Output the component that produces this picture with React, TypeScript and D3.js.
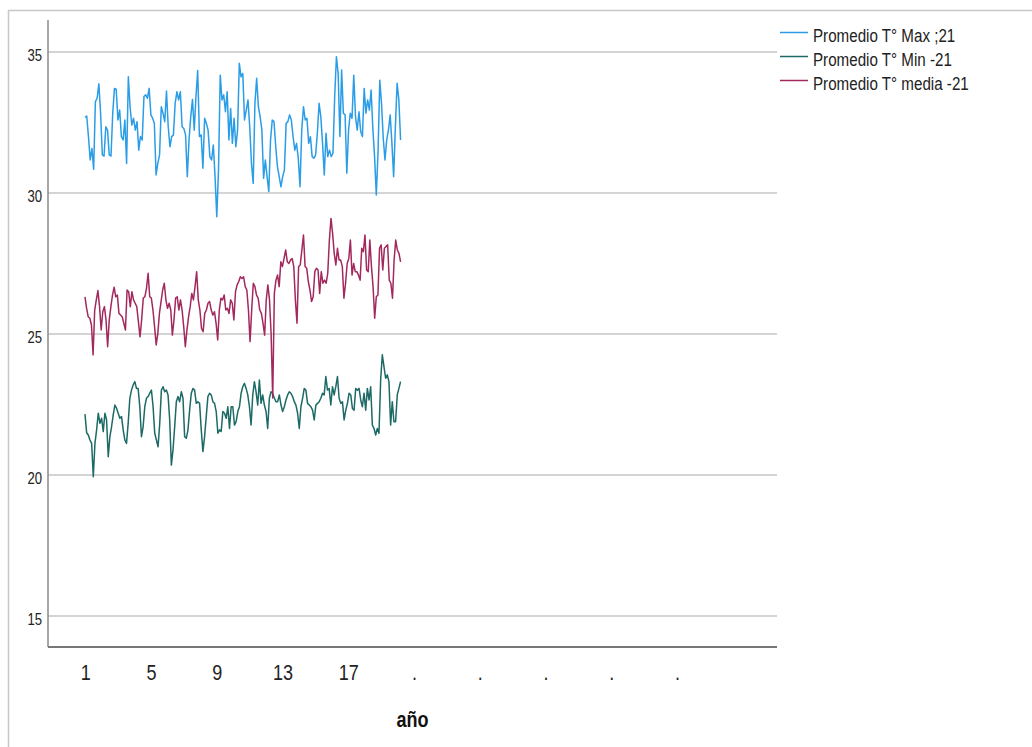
import React, { useEffect, useRef } from "react";
import * as d3 from "d3";

// series (about 12 readings per año)
const maxTemp = [
  32.68, 32.73, 32.0, 31.17, 31.58, 30.84, 33.24, 33.36, 33.87, 32.83, 31.35, 31.31, 32.35, 32.23, 31.35, 31.31,
  32.83, 33.71, 33.68, 32.59, 32.94, 32.0, 31.88, 32.59, 31.05, 34.12, 33.06, 32.41, 32.65, 32.23, 32.53, 31.52,
  32.0, 31.88, 33.42, 33.48, 33.36, 33.71, 32.77, 32.65, 32.47, 30.64, 31.05, 31.35, 33.06, 32.83, 32.53, 33.62,
  32.35, 31.64, 32.0, 32.06, 33.18, 33.59, 33.3, 33.59, 32.35, 32.29, 32.06, 30.58, 31.88, 32.71, 33.32, 32.23,
  33.42, 34.34, 32.0, 32.06, 30.88, 32.65, 32.47, 32.23, 31.29, 31.17, 31.7, 30.58, 29.16, 30.82, 34.18, 33.3,
  33.48, 32.88, 33.59, 31.88, 33.0, 31.76, 32.65, 31.64, 32.23, 34.6, 34.12, 34.24, 32.59, 32.94, 33.3, 32.35,
  31.05, 30.34, 33.18, 34.07, 33.06, 32.71, 32.23, 30.52, 31.17, 30.58, 30.05, 31.88, 32.59, 32.53, 31.64, 30.93,
  30.58, 30.22, 30.58, 30.82, 32.47, 32.53, 32.77, 32.59, 32.0, 31.52, 31.76, 31.23, 30.22, 32.23, 33.06, 32.59,
  32.65, 31.76, 32.0, 31.29, 31.23, 31.35, 32.12, 33.18, 32.71, 31.76, 30.64, 32.12, 31.29, 31.52, 31.29, 31.41,
  33.42, 34.83, 34.24, 32.0, 34.36, 32.83, 32.77, 30.7, 32.23, 32.83, 32.65, 34.18, 32.71, 32.23, 32.88, 32.18,
  32.0, 33.71, 32.83, 33.3, 32.94, 33.65, 32.29, 31.29, 29.93, 31.46, 34.0, 33.18, 31.94, 31.17, 31.88, 32.23,
  32.77, 31.76, 30.58, 32.35, 33.89, 33.3, 31.88
];

const minTemp = [
  22.16, 21.5, 21.42, 21.24, 21.12, 19.94, 21.12, 21.6, 22.19, 21.83, 22.01, 21.54, 22.19, 21.95, 20.65, 21.36,
  21.71, 22.13, 22.48, 22.37, 22.19, 22.01, 22.07, 21.6, 21.24, 21.12, 21.83, 22.72, 23.01, 23.19, 23.31, 23.07,
  23.07, 22.42, 21.36, 21.71, 22.42, 22.72, 22.78, 22.9, 23.01, 22.42, 21.48, 21.24, 21.0, 21.83, 23.01, 23.13,
  22.95, 23.01, 22.84, 21.95, 20.35, 20.89, 21.71, 22.6, 22.78, 22.6, 22.95, 22.72, 21.36, 21.3, 21.6, 22.3,
  22.9, 23.07, 23.01, 22.54, 22.6, 22.54, 21.6, 20.83, 21.36, 22.07, 22.78, 22.9, 22.84, 22.6, 22.54, 22.25,
  21.48, 21.6, 21.54, 22.25, 22.19, 22.01, 22.42, 21.65, 22.42, 22.42, 21.77, 21.89, 22.25, 22.42, 22.9, 23.13,
  23.25, 23.07, 22.84, 22.42, 21.77, 22.84, 23.31, 22.95, 22.48, 23.37, 22.54, 22.84, 22.48, 22.25, 21.65, 22.72,
  22.95, 22.9, 22.72, 22.6, 22.6, 22.84, 22.48, 22.25, 22.42, 22.66, 22.84, 22.95, 22.9, 22.78, 22.6, 22.48,
  22.19, 21.65, 22.42, 22.72, 23.07, 23.01, 22.54, 22.48, 22.42, 22.3, 21.95, 22.48, 22.54, 22.6, 22.72, 22.9,
  22.84, 23.49, 23.01, 23.07, 22.48, 23.13, 22.84, 23.13, 23.49, 22.72, 22.54, 22.6, 21.95, 22.3, 22.54, 22.9,
  22.84, 22.36, 22.3, 23.07, 23.01, 23.07, 22.66, 22.42, 22.9, 22.3, 23.07, 22.66, 23.13, 21.77, 21.65, 21.42,
  21.65, 21.48, 23.37, 24.26, 23.84, 23.43, 23.55, 23.31, 21.77, 22.6, 21.89, 21.89, 22.84, 23.07, 23.31
];

const meanTemp = [
  26.32, 25.91, 25.61, 25.56, 25.32, 24.26, 25.85, 26.21, 26.54, 25.97, 25.14, 25.79, 25.97, 25.5, 24.55, 25.5,
  25.97, 26.38, 26.66, 26.32, 26.38, 25.73, 25.67, 25.61, 25.38, 25.14, 26.56, 26.5, 25.97, 26.5, 26.21, 26.09,
  25.97, 25.44, 24.9, 25.5, 26.27, 26.32, 26.62, 27.15, 26.32, 26.27, 25.85, 25.26, 24.61, 25.02, 25.73, 26.15,
  26.56, 26.8, 26.21, 25.91, 26.09, 25.85, 24.96, 25.5, 26.27, 26.32, 25.85, 26.21, 25.85, 25.26, 24.55, 25.14,
  25.61, 25.97, 26.44, 26.21, 26.68, 27.21, 26.21, 25.85, 25.2, 25.08, 25.73, 25.85, 26.09, 26.15, 25.85, 25.67,
  25.79, 25.38, 24.79, 25.85, 26.27, 26.21, 26.38, 25.85, 25.91, 25.73, 26.21, 26.09, 25.5, 26.5, 26.74, 26.86,
  27.03, 26.97, 27.03, 26.68, 26.56, 25.85, 24.73, 25.85, 26.8, 26.68, 26.38, 26.27, 25.85, 25.73, 25.38, 24.96,
  26.21, 26.74, 26.21, 25.02, 22.73, 26.44, 26.91, 27.09, 26.68, 27.56, 27.39, 27.68, 27.98, 27.56, 27.5, 27.62,
  27.68, 27.39, 26.21, 25.38, 27.39, 27.45, 27.98, 28.51, 27.39, 27.33, 26.86, 26.56, 26.15, 26.32, 27.21, 27.33,
  27.27, 26.44, 27.21, 26.8, 26.91, 26.8, 27.15, 28.33, 29.1, 28.57, 27.86, 27.45, 28.04, 27.62, 27.62, 27.39,
  26.27, 26.8, 27.5, 27.68, 28.33, 27.09, 27.5, 27.21, 27.21, 27.09, 26.91, 28.04, 27.92, 28.51, 27.27, 27.21,
  28.33, 27.39, 26.68, 25.56, 26.32, 26.38, 28.04, 28.16, 27.27, 28.04, 28.1, 28.16, 26.91, 26.8, 26.27, 27.62,
  28.33, 27.98, 27.86, 27.56
];

const seriesNames = ["Promedio T° Max ;21", "Promedio T° Min -21", "Promedio T° media -21"];
const seriesColors = ["#2a9de6", "#1c6a65", "#a3285e"];
const xTickValues = [1, 5, 9, 13, 17, 21, 25, 29, 33, 37];
const xTickLabels = ["1", "5", "9", "13", "17", ".", ".", ".", ".", "."];
const yTickValues = [15, 20, 25, 30, 35];
const xTitle = "año";

// no narrow face installed, so Arial metrics squeezed horizontally
const FONT = '"Liberation Sans", Arial, sans-serif';
const SQUEEZE = 0.82;

export default function App() {
  const ref = useRef<SVGSVGElement>(null);

  useEffect(() => {
    const svg = d3.select(ref.current);
    svg.selectAll("*").remove();

    const left = 48, right = 777, top = 20, bottom = 647;
    const x = d3.scaleLinear().domain([-1.3, 43.05]).range([left, right]);
    const y = d3.scaleLinear().domain([13.9, 36.135]).range([bottom, top]);

    const label = (g: any, tx: number, ty: number, size: number, anchor: string, txt: string, bold = false) =>
      g.append("text")
        .attr("transform", "translate(" + tx + "," + ty + ") scale(" + SQUEEZE + ",1)")
        .attr("text-anchor", anchor)
        .style("font-family", FONT).style("font-size", size + "px")
        .style("font-weight", bold ? "bold" : "normal")
        .attr("fill", bold ? "#111" : "#222")
        .text(txt);

    // outer frame
    svg.append("rect")
      .attr("x", 8.5).attr("y", 10.5).attr("width", 1040).attr("height", 760)
      .attr("fill", "none").attr("stroke", "#c8c8c8").attr("stroke-width", 1.5);

    // grid
    svg.append("g").selectAll("line").data(yTickValues).enter().append("line")
      .attr("x1", left).attr("x2", right)
      .attr("y1", (d) => y(d)).attr("y2", (d) => y(d))
      .attr("stroke", "#d4d4d4").attr("stroke-width", 2);

    const yLabels = svg.append("g");
    yTickValues.forEach((v) => label(yLabels, left - 6, y(v) + 9, 16, "end", String(v)));

    // axes
    svg.append("line").attr("x1", left).attr("x2", left).attr("y1", top).attr("y2", bottom)
      .attr("stroke", "#8a8a8a").attr("stroke-width", 1.5);
    svg.append("line").attr("x1", left).attr("x2", right).attr("y1", bottom).attr("y2", bottom)
      .attr("stroke", "#777").attr("stroke-width", 2);

    const xLabels = svg.append("g");
    xTickValues.forEach((v, i) => label(xLabels, x(v), 680, 22, "middle", xTickLabels[i]));

    label(svg, (left + right) / 2, 727, 22, "middle", xTitle, true);

    // lines, spread evenly from the first to the last año reading
    const series = [maxTemp, minTemp, meanTemp];
    const first = 0.95, last = 20.15;
    series.forEach((vals, s) => {
      const step = (last - first) / (vals.length - 1);
      const line = d3.line<number>()
        .x((d, i) => x(first + i * step))
        .y((d) => y(d));
      svg.append("path")
        .attr("d", line(vals))
        .attr("fill", "none")
        .attr("stroke", seriesColors[s])
        .attr("stroke-width", 1.5)
        .attr("stroke-linejoin", "round");
    });

    // legend
    const legend = svg.append("g").attr("transform", "translate(780,32.5)");
    seriesNames.forEach((name, i) => {
      const g = legend.append("g").attr("transform", "translate(0," + i * 24 + ")");
      g.append("line").attr("x1", 0).attr("x2", 28).attr("y1", 0).attr("y2", 0)
        .attr("stroke", seriesColors[i]).attr("stroke-width", 1.5);
      label(g, 33, 9, 18.5, "start", name);
    });
  }, []);

  return (
    <div style={{ position: "absolute", left: 0, top: 0 }}>
      <svg ref={ref} width={1032} height={747} style={{ display: "block", background: "#fff" }} />
    </div>
  );
}
